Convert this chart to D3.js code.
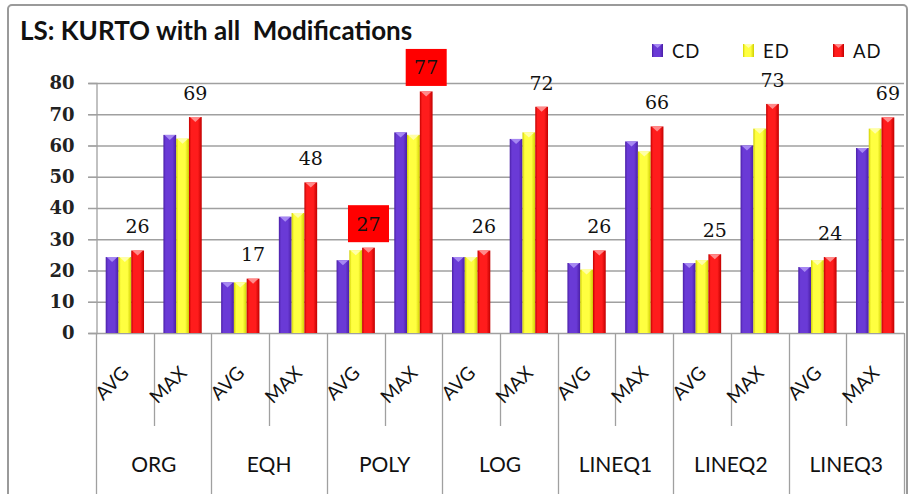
<!DOCTYPE html>
<html>
<head>
<meta charset="utf-8">
<script src="https://cdn.jsdelivr.net/npm/d3@7"></script>
<style>
  body { margin: 0; background: #fff; }
  svg { display: block; }
</style>
</head>
<body>
<div id="chart"></div>
<script>
const width = 912;
const height = 494;

// dados
const groups = ["ORG", "EQH", "POLY", "LOG", "LINEQ1", "LINEQ2", "LINEQ3"];
const stats = ["AVG", "MAX"];
const series = ["CD", "ED", "AD"];
const cdValues = [24.3, 63.4, 16.2, 37.2, 23.3, 64.2, 24.3, 62.1, 22.4, 61.3, 22.4, 60.0, 21.1, 59.2];
const edValues = [24.3, 62.2, 16.2, 38.4, 26.5, 63.4, 24.3, 64.2, 20.3, 58.1, 23.3, 65.4, 23.3, 65.4];
const adValues = [26.4, 69.1, 17.4, 48.2, 27.3, 77.3, 26.4, 72.4, 26.4, 66.1, 25.2, 73.3, 24.3, 69.0];
const yTicks = [0, 10, 20, 30, 40, 50, 60, 70, 80];
const highlighted = ["POLY"];

const seriesValues = { CD: cdValues, ED: edValues, AD: adValues };
const colors = {
  CD: { dark: "#4a1fa6", mid: "#6a3ad6", top: "#a688f2" },
  ED: { dark: "#cfcf00", mid: "#ffff40", top: "#ffffa8" },
  AD: { dark: "#c20000", mid: "#ff1c1c", top: "#ff8a8a" },
};

// linhas (categoria + estatistica)
const rows = [];
groups.forEach((g) => stats.forEach((s) => rows.push({ group: g, stat: s, key: g + "|" + s })));
rows.forEach((r, i) => series.forEach((k) => (r[k] = seriesValues[k][i])));

const svg = d3
  .select("#chart")
  .append("svg")
  .attr("width", width)
  .attr("height", height);

const defs = svg.append("defs");
series.forEach((k) => {
  const grad = defs
    .append("linearGradient")
    .attr("id", "grad-" + k)
    .attr("x1", 0)
    .attr("x2", 1)
    .attr("y1", 0)
    .attr("y2", 0);
  grad.append("stop").attr("offset", "0%").attr("stop-color", colors[k].dark);
  grad.append("stop").attr("offset", "18%").attr("stop-color", colors[k].mid);
  grad.append("stop").attr("offset", "70%").attr("stop-color", colors[k].mid);
  grad.append("stop").attr("offset", "100%").attr("stop-color", colors[k].dark);
});

// moldura
svg
  .append("rect")
  .attr("x", 8)
  .attr("y", 5)
  .attr("width", 899)
  .attr("height", 520)
  .attr("rx", 4)
  .attr("fill", "#fff")
  .attr("stroke", "#9a9a9a")
  .attr("stroke-width", 2);

// titulo
svg
  .append("text")
  .attr("x", 20)
  .attr("y", 40)
  .attr("font-family", "Lato, sans-serif")
  .attr("font-weight", "bold")
  .attr("font-size", 26)
  .attr("fill", "#111")
  .attr("xml:space", "preserve")
  .text("LS: KURTO with all  Modifications");

// escalas
const x = d3
  .scaleBand()
  .domain(rows.map((r) => r.key))
  .range([96, 904]);

const xInner = d3
  .scaleBand()
  .domain(series)
  .range([x.bandwidth() * 0.168, x.bandwidth() * 0.832]);

const y = d3.scaleLinear().domain([0, 80]).range([333, 83]);

// grade
svg
  .append("g")
  .selectAll("line")
  .data(yTicks)
  .enter()
  .append("line")
  .attr("x1", 88)
  .attr("x2", 904)
  .attr("y1", (d) => y(d) + 0.5)
  .attr("y2", (d) => y(d) + 0.5)
  .attr("stroke", "#a0a0a0")
  .attr("stroke-width", 1.3);

// eixo y
const yAxis = svg
  .append("g")
  .attr("transform", "translate(96.5,0)")
  .call(d3.axisLeft(y).tickValues(yTicks).tickSize(8).tickPadding(14));
yAxis.select(".domain").attr("stroke", "#a0a0a0").attr("stroke-width", 1.3);
yAxis.selectAll(".tick line").attr("stroke", "#a0a0a0");
yAxis
  .selectAll(".tick text")
  .attr("font-family", "'DejaVu Serif', serif")
  .attr("font-weight", "bold")
  .attr("font-size", 18)
  .attr("fill", "#222");

// linhas de divisao do eixo x
const boundaries = d3.range(rows.length + 1);
svg
  .append("g")
  .selectAll("line")
  .data(boundaries)
  .enter()
  .append("line")
  .attr("x1", (i) => Math.round(96 + i * x.step()) + 0.5)
  .attr("x2", (i) => Math.round(96 + i * x.step()) + 0.5)
  .attr("y1", 333)
  .attr("y2", (i) => (i % 2 === 0 ? 494 : 426))
  .attr("stroke", "#a0a0a0")
  .attr("stroke-width", 1.3);

// barras
const barG = svg
  .append("g")
  .selectAll("g")
  .data(rows)
  .enter()
  .append("g")
  .attr("transform", (d) => `translate(${x(d.key)},0)`);

series.forEach((k) => {
  barG
    .append("rect")
    .attr("x", xInner(k))
    .attr("y", (d) => y(d[k]))
    .attr("width", xInner.bandwidth())
    .attr("height", (d) => y(0) - y(d[k]))
    .attr("fill", `url(#grad-${k})`);
  barG
    .append("path")
    .attr("d", (d) => {
      const x0 = xInner(k);
      const w = xInner.bandwidth();
      const top = y(d[k]);
      return `M${x0 + 1},${top} L${x0 + w - 1},${top} L${x0 + w / 2},${top + 5} Z`;
    })
    .attr("fill", colors[k].top);
});

// rotulos de dados (AD)
const labelX = xInner("AD") + xInner.bandwidth() / 2;
barG
  .filter((d) => highlighted.includes(d.group))
  .append("rect")
  .attr("x", labelX - 20.5)
  .attr("y", (d) => y(d.AD) - 24 - 18.5)
  .attr("width", 41)
  .attr("height", 37)
  .attr("fill", "#ff0000");

barG
  .append("text")
  .attr("x", labelX)
  .attr("y", (d) => y(d.AD) - 24)
  .attr("dy", "0.36em")
  .attr("text-anchor", "middle")
  .attr("font-family", "'DejaVu Serif', serif")
  .attr("font-size", 19)
  .attr("fill", "#111")
  .text((d) => d3.format(".0f")(d.AD));

// rotulos AVG / MAX
svg
  .append("g")
  .selectAll("text")
  .data(rows)
  .enter()
  .append("text")
  .attr("transform", (d) => `translate(${x(d.key) + x.bandwidth() / 2},369) rotate(-45)`)
  .attr("text-anchor", "end")
  .attr("dominant-baseline", "central")
  .attr("font-family", "Lato, sans-serif")
  .attr("font-size", 19)
  .attr("fill", "#111")
  .text((d) => d.stat);

// rotulos das categorias
svg
  .append("g")
  .selectAll("text")
  .data(groups)
  .enter()
  .append("text")
  .attr("x", (g) => x(g + "|AVG") + x.step())
  .attr("y", 465)
  .attr("dy", "0.35em")
  .attr("text-anchor", "middle")
  .attr("font-family", "Lato, sans-serif")
  .attr("font-size", 21)
  .attr("fill", "#111")
  .text((g) => g);

// legenda
const legendX = [652, 743, 833];
const legend = svg
  .append("g")
  .selectAll("g")
  .data(series)
  .enter()
  .append("g")
  .attr("transform", (d, i) => `translate(${legendX[i]},44)`);

legend
  .append("rect")
  .attr("width", 11)
  .attr("height", 13)
  .attr("fill", (d) => `url(#grad-${d})`);
legend
  .append("path")
  .attr("d", "M1,0 L10,0 L5.5,4 Z")
  .attr("fill", (d) => colors[d].top);
legend
  .append("text")
  .attr("x", 20)
  .attr("y", 14)
  .attr("font-family", "Lato, sans-serif")
  .attr("font-size", 18.5)
  .attr("letter-spacing", 1)
  .attr("fill", "#111")
  .text((d) => d);
</script>
</body>
</html>
